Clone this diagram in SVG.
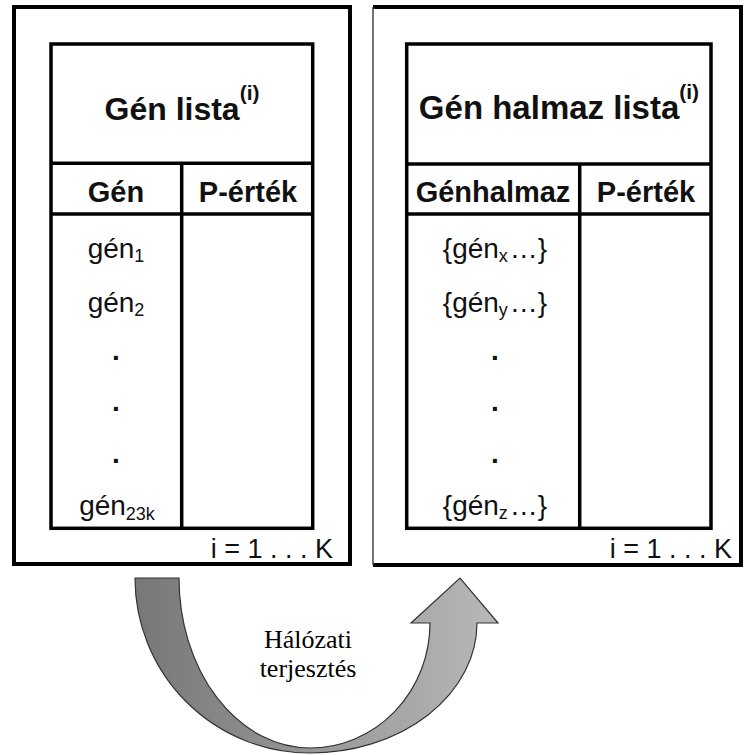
<svg xmlns="http://www.w3.org/2000/svg" width="745" height="755" viewBox="0 0 745 755">
<defs>
<style>
.box{fill:none;stroke:#000;stroke-width:4}
.tbl{fill:none;stroke:#000;stroke-width:3.5}
text{font-family:"Liberation Sans",Arial,sans-serif;fill:#111}
.title{font-weight:bold;font-size:32px;text-anchor:middle}
.sup{font-size:21px}
.hdr{font-weight:bold;font-size:29px;text-anchor:middle}
.cell{font-size:28px;text-anchor:middle}
.dot{font-weight:bold}
.sub{font-size:18px}
.idx{font-size:27px;text-anchor:end}
.lbl{font-family:"Liberation Serif","Times New Roman",serif;font-size:26px;text-anchor:middle;fill:#000}
.arrow{fill:url(#grad);stroke:#333;stroke-width:1.2}
</style>
<linearGradient id="grad" x1="0" y1="0" x2="1" y2="0">
<stop offset="0" stop-color="#777"/>
<stop offset="1" stop-color="#b8b8b8"/>
</linearGradient>
</defs>
<rect width="745" height="755" fill="#fff"/>

<g id="gene-list">
<rect class="box" x="14" y="7" width="336" height="557"/>
<rect class="tbl" x="51" y="44" width="261.7" height="484.3"/>
<line class="tbl" x1="51" y1="163.3" x2="312.7" y2="163.3"/>
<line class="tbl" x1="51" y1="214" x2="312.7" y2="214"/>
<line class="tbl" x1="181.7" y1="163.3" x2="181.7" y2="528.3"/>
<text class="title" x="182" y="120">Gén lista<tspan class="sup" dy="-20">(i)</tspan></text>
<text class="hdr" x="116" y="202">Gén</text>
<text class="hdr" x="248" y="202">P-érték</text>
<text class="cell" x="116" y="258">gén<tspan class="sub" dy="4">1</tspan></text>
<text class="cell" x="116" y="312">gén<tspan class="sub" dy="4">2</tspan></text>
<text class="cell dot" x="116" y="360">.</text>
<text class="cell dot" x="116" y="411">.</text>
<text class="cell dot" x="116" y="463">.</text>
<text class="cell" x="117" y="515">gén<tspan class="sub" dy="5">23k</tspan></text>
<text class="idx" x="333" y="558">i = 1 . . . K</text>
</g>

<g id="gene-set-list">
<path class="box" d="M373,7 H741 V565 H373"/>
<line x1="373" y1="7" x2="373" y2="565" stroke="#444" stroke-width="1.5"/>
<rect class="tbl" x="406.7" y="44" width="304.3" height="484.3"/>
<line class="tbl" x1="406.7" y1="164" x2="711" y2="164"/>
<line class="tbl" x1="406.7" y1="214" x2="711" y2="214"/>
<line class="tbl" x1="579.7" y1="164" x2="579.7" y2="528.3"/>
<text class="title" x="559" y="119" style="font-size:33px">Gén halmaz lista<tspan class="sup" dy="-20">(i)</tspan></text>
<text class="hdr" x="493" y="202">Génhalmaz</text>
<text class="hdr" x="646" y="202">P-érték</text>
<text class="cell" x="495" y="258">{gén<tspan class="sub" dy="4">x</tspan><tspan dy="-4" dx="2">…}</tspan></text>
<text class="cell" x="495" y="312">{gén<tspan class="sub" dy="4">y</tspan><tspan dy="-4" dx="2">…}</tspan></text>
<text class="cell dot" x="495" y="360">.</text>
<text class="cell dot" x="495" y="411">.</text>
<text class="cell dot" x="495" y="463">.</text>
<text class="cell" x="495" y="515">{gén<tspan class="sub" dy="4">z</tspan><tspan dy="-4" dx="2">…}</tspan></text>
<text class="idx" x="732" y="558">i = 1 . . . K</text>
</g>

<g id="connectors">
<path class="arrow" d="M135,578 L179,578 A131,170 0 0 0 310,748 A120,125 0 0 0 430,623 L411,623 L460,578 L498,623 L477,623 A167,130 0 0 1 310,753 A175,175 0 0 1 135,578 Z"/>
</g>

<g id="propagation-label">
<text class="lbl" x="308" y="648">Hálózati</text>
<text class="lbl" x="308" y="677">terjesztés</text>
</g>
</svg>
